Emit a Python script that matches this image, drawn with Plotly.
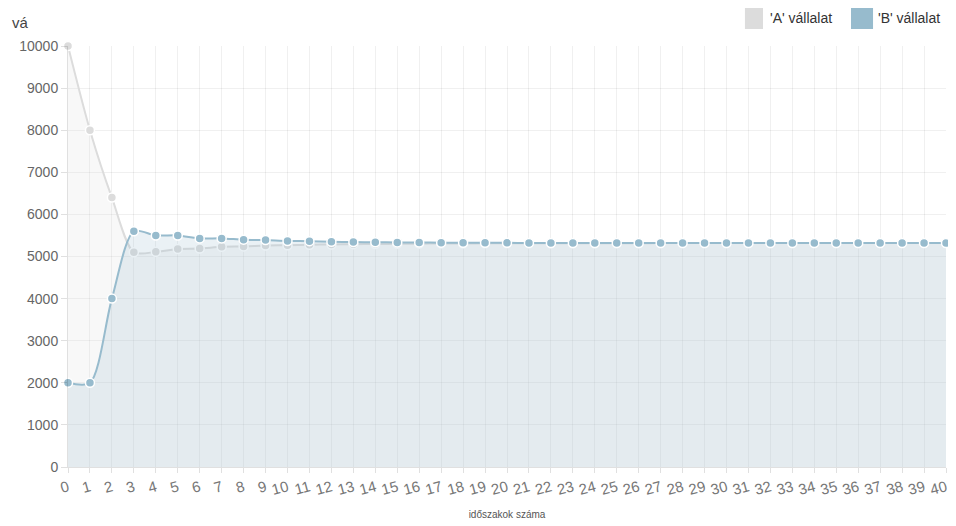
import plotly.graph_objects as go

periods = list(range(41))
tick_labels = [str(p) for p in periods]

series_a_name = "'A' vállalat"
series_b_name = "'B' vállalat"

values_a = [10000, 8000, 6400, 5100, 5110, 5180, 5190, 5230, 5240, 5260, 5268,
            5280, 5286, 5293, 5297, 5302, 5305, 5308, 5310, 5312, 5313,
            5314, 5315, 5316, 5316, 5317, 5317, 5318, 5318, 5318, 5318,
            5318, 5318, 5318, 5318, 5318, 5318, 5318, 5318, 5318, 5318]
values_b = [2000, 2000, 4000, 5600, 5500, 5500, 5430, 5430, 5400, 5390, 5370,
            5365, 5350, 5345, 5338, 5335, 5331, 5329, 5327, 5325, 5324,
            5323, 5322, 5322, 5321, 5321, 5321, 5320, 5320, 5320, 5320,
            5320, 5320, 5320, 5320, 5320, 5320, 5320, 5320, 5320, 5320]

y_ticks = list(range(0, 10001, 1000))
y_tick_labels = [str(v) for v in y_ticks]
x_title = "időszakok száma"

col_a = "rgb(220,220,220)"
col_b = "rgb(151,187,205)"

fig = go.Figure()
fig.add_trace(go.Scatter(
    x=periods, y=values_a, name=series_a_name, mode="lines+markers",
    line=dict(color=col_a, width=2, shape="spline", smoothing=0.8),
    marker=dict(size=9, color=col_a, line=dict(color="white", width=1.5)),
    fill="tozeroy", fillcolor="rgba(220,220,220,0.2)",
    cliponaxis=False, showlegend=False))
fig.add_trace(go.Scatter(
    x=periods, y=values_b, name=series_b_name, mode="lines+markers",
    line=dict(color=col_b, width=2, shape="spline", smoothing=0.8),
    marker=dict(size=9, color=col_b, line=dict(color="white", width=1.5)),
    fill="tozeroy", fillcolor="rgba(151,187,205,0.2)",
    cliponaxis=False, showlegend=False))

# custom legend (square swatches)
legend_items = [(series_a_name, col_a, 0.771, 0.7916, 0.7973),
                (series_b_name, col_b, 0.8918, 0.9169, 0.9203)]
annotations = []
shapes = []
for name, col, bx0, bx1, tx in legend_items:
    shapes.append(dict(type="rect", xref="paper", yref="paper",
                       x0=bx0, x1=bx1, y0=1.0404, y1=1.0926,
                       fillcolor=col, line=dict(width=0)))
    annotations.append(dict(text=name, xref="paper", yref="paper", x=tx,
                            y=1.0665, xanchor="left", yanchor="middle", showarrow=False,
                            font=dict(family="Liberation Sans, Arial", size=14, color="#333")))
annotations.append(dict(text="vá", xref="paper", yref="paper", x=-0.0665, y=1.057,
                        xanchor="left", yanchor="middle", showarrow=False,
                        font=dict(family="Liberation Sans, Arial", size=15, color="#444")))

fig.update_layout(
    width=948, height=518,
    margin=dict(l=60, r=10, t=38, b=59),
    paper_bgcolor="white", plot_bgcolor="white",
    font=dict(family="Liberation Sans, Arial", size=14, color="#666"),
    shapes=shapes, annotations=annotations,
    xaxis=dict(range=[0, 40], tickmode="array", tickvals=periods, ticktext=tick_labels,
               tickangle=-15, showgrid=True, gridcolor="rgba(0,0,0,0.06)",
               ticks="outside", ticklen=5, tickcolor="rgba(0,0,0,0.12)",
               showline=True, linecolor="rgba(0,0,0,0.12)", zeroline=False,
               automargin=False,
               tickfont=dict(size=15, color="#777"),
               title=dict(text=x_title, font=dict(size=10, color="#555"), standoff=14)),
    yaxis=dict(range=[0, 10000], tickmode="array", tickvals=y_ticks, ticktext=y_tick_labels,
               showgrid=True, gridcolor="rgba(0,0,0,0.06)",
               ticks="outside", ticklen=6, tickcolor="rgba(0,0,0,0.12)",
               showline=True, linecolor="rgba(0,0,0,0.12)", zeroline=False,
               automargin=False,
               tickfont=dict(size=14, color="#666")),
)

fig.write_html("out.html")
